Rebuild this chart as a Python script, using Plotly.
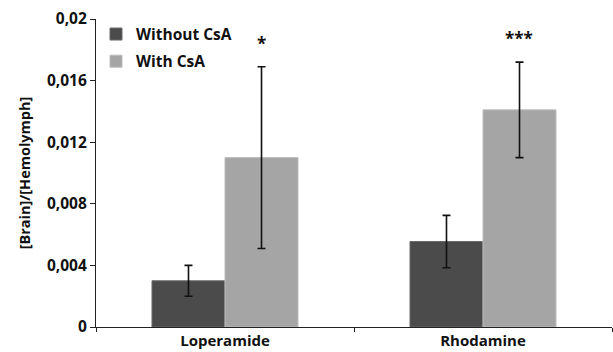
import plotly.graph_objects as go

categories = ["Loperamide", "Rhodamine"]
series_names = ["Without CsA", "With CsA"]
without_csa = [0.0030, 0.00555]
without_err = [0.0010, 0.0017]
with_csa = [0.0110, 0.0141]
with_err = [0.0059, 0.0031]
significance = ["*", "***"]
tick_vals = [0, 0.004, 0.008, 0.012, 0.016, 0.02]
tick_text = ["0", "0,004", "0,008", "0,012", "0,016", "0,02"]

FONT = "Open Sans"
dark = "#4b4b4b"
light = "#a5a5a5"

fig = go.Figure()
fig.add_trace(go.Bar(
    x=categories, y=without_csa, name=series_names[0], legendgroup="a",
    marker=dict(color=dark, line=dict(color="#6a6a6a", width=1)),
    error_y=dict(type="data", array=without_err, color="#111111", thickness=1.6, width=4),
))
fig.add_trace(go.Bar(
    x=categories, y=with_csa, name=series_names[1], legendgroup="b",
    marker=dict(color=light, line=dict(color="#bdbdbd", width=1)),
    error_y=dict(type="data", array=with_err, color="#111111", thickness=1.6, width=4),
))

for c, v, e, s in zip(categories, with_csa, with_err, significance):
    fig.add_annotation(x=c, y=v + e, text=s, showarrow=False, xref="x", yref="y",
                       xshift=36, yshift=10, yanchor="bottom",
                       font=dict(family=FONT, size=17, color="#111111", weight="bold"))

fig.update_layout(
    width=613, height=352,
    margin=dict(l=96, r=1, t=19, b=25),
    paper_bgcolor="white", plot_bgcolor="white",
    barmode="group", bargap=0.434, bargroupgap=0,
    font=dict(family=FONT, size=13, color="#111111", weight="bold"),
    showlegend=True,
    legend=dict(x=0.0, y=1.005, xanchor="left", yanchor="top",
                bgcolor="rgba(0,0,0,0)", tracegroupgap=4,
                font=dict(family=FONT, size=15.5, color="#111111", weight="bold"),
                itemwidth=30),
    xaxis=dict(showline=True, linecolor="#222222", linewidth=1.2, automargin=False,
               ticks="outside", tickson="boundaries", ticklen=4, tickcolor="#222222",
               tickfont=dict(family=FONT, size=15, weight="bold"),
               showgrid=False),
    yaxis=dict(range=[0, 0.02], showline=True, linecolor="#222222", linewidth=1.2,
               automargin=False,
               ticks="outside", ticklen=5, tickcolor="#222222",
               tickvals=tick_vals, ticktext=tick_text,
               tickfont=dict(family=FONT, size=15.5, weight="bold"),
               showgrid=False, zeroline=False,
               title=dict(text="[Brain]/[Hemolymph]", standoff=12,
                          font=dict(family=FONT, size=14.5, weight="bold"))),
)

fig.write_html("out.html")
